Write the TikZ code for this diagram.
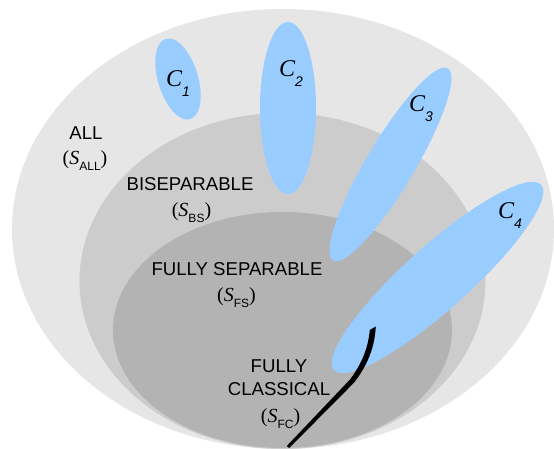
\documentclass[tikz,border=0pt]{standalone}
\usepackage{fontspec}
\setmainfont{Liberation Sans}
\newfontfamily\tms{Liberation Serif}
\definecolor{gA}{HTML}{E6E6E6}
\definecolor{gB}{HTML}{CCCCCC}
\definecolor{gC}{HTML}{B3B3B3}
\definecolor{blu}{HTML}{99CCFF}
\newcommand{\clab}[1]{{\fontsize{24}{24}\selectfont\tms\itshape C}\raisebox{-10pt}{\fontsize{14}{14}\selectfont\itshape #1}}
\newcommand{\setlab}[1]{{\fontsize{20}{20}\selectfont\tms(\itshape S\/}\raisebox{-5.5pt}{\fontsize{12}{12}\selectfont #1}{\fontsize{20}{20}\selectfont\tms)}}
\tikzset{
  setall/.style={fill=gA},
  setbs/.style={fill=gB},
  setfs/.style={fill=gC},
  blob/.style={fill=blu},
  fcline/.style={fill=black},
  lbl/.style={font=\fontsize{18.6}{18.6}\selectfont, inner sep=0pt, anchor=base},
  clbl/.style={inner sep=0pt, anchor=base west},
}
\begin{document}
\begin{tikzpicture}[x=1pt,y=1pt]
\useasboundingbox (0,0) rectangle (554,449);
\fill[white] (0,0) rectangle (554,449);
% nested sets
\fill[setall] (283,220) ellipse [x radius=271pt, y radius=220pt];
\fill[setbs] (282.5,168) ellipse [x radius=203pt, y radius=168pt];
\fill[setfs] (282.5,119) ellipse [x radius=169.5pt, y radius=118pt];
% blue regions
\fill[blob, rotate around={17:(178,370)}] (178,370) ellipse [x radius=20pt, y radius=42pt];
\fill[blob] (288,341) ellipse [x radius=28pt, y radius=86pt];
\fill[blob, rotate around={59.2:(390.5,284.5)}] (390.5,284.5) ellipse [x radius=112pt, y radius=24pt];
\fill[blob, rotate around={41.8:(437.5,171.5)}] (437.5,171.5) ellipse [x radius=139pt, y radius=32pt];
% fully classical curve
\fill[fcline] (375.8,122.5) .. controls (374.5,100) and (366.8,83) .. (354.2,66.5)
  -- (289.2,1) -- (286.8,3) -- (350,69.5)
  .. controls (361.5,85) and (368,100) .. (369.8,119) -- cycle;
% labels
\node[clbl] (c1) at (166,362) {\clab{1}};
\node[clbl] (c2) at (279,372) {\clab{2}};
\node[clbl] (c3) at (409,337) {\clab{3}};
\node[clbl] (c4) at (498,230) {\clab{4}};
\node[lbl] (all) at (86,309) {ALL};
\node[lbl] (sall) at (85,284) {\setlab{ALL}};
\node[lbl] (bs) at (190,258) {BISEPARABLE};
\node[lbl] (sbs) at (191.5,232) {\setlab{BS}};
\node[lbl] (fs) at (237,173) {FULLY SEPARABLE};
\node[lbl] (sfs) at (236.5,147) {\setlab{FS}};
\node[lbl] (fc1) at (279,76) {FULLY};
\node[lbl] (fc2) at (279,53) {CLASSICAL};
\node[lbl] (sfc) at (280.5,26) {\setlab{FC}};
\end{tikzpicture}
\end{document}
